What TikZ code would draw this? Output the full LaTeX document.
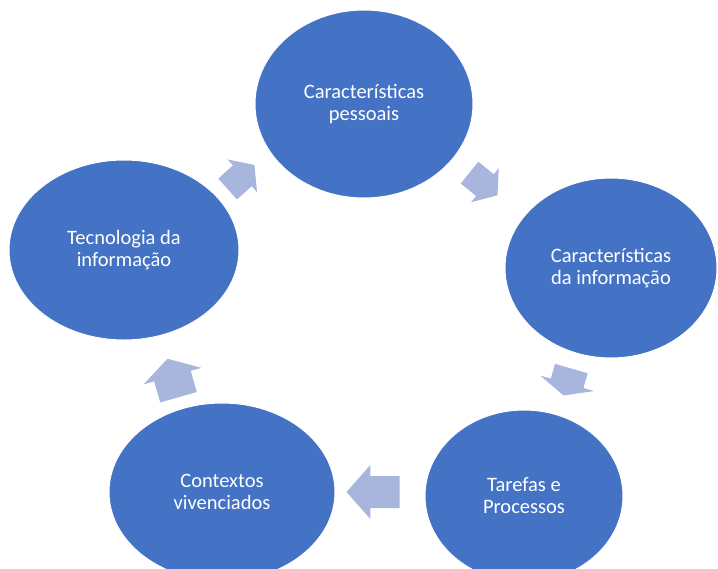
\documentclass[tikz,border=0pt]{standalone}
\usepackage{fontspec}
\setmainfont{Carlito}
\usetikzlibrary{calc,shapes.geometric}
\definecolor{nodeblue}{RGB}{68,114,196}
\definecolor{arrowblue}{RGB}{168,182,222}
% #1 from node, #2 to node, #3 angle, #4 length, #5 body half width, #6 head half width, #7 offset
\newcommand\cycarr[7]{%
  \begin{scope}[shift={($(#1)!0.5!(#2)+#7$)},rotate=#3]
    \fill[arrowblue] ({-#4/2},{-#5}) -- ({#4/2-0.45*#4},{-#5}) -- ({#4/2-0.45*#4},{-#6})
      -- ({#4/2},0) -- ({#4/2-0.45*#4},{#6}) -- ({#4/2-0.45*#4},{#5}) -- ({-#4/2},{#5}) -- cycle;
  \end{scope}}
\begin{document}
\begin{tikzpicture}[x=1pt,y=-1pt,
  bub/.style={ellipse, fill=nodeblue, draw=white, line width=1pt, text=white,
    align=center, inner sep=0pt, font=\fontsize{20.5}{22}\selectfont}]
\useasboundingbox (0,0) rectangle (718,568);
\fill[white] (0,0) rectangle (718,568);
\clip (0,0) rectangle (718,568);
\node[bub, minimum width=218pt, minimum height=188pt] (top) at (364,104) {Características\\pessoais};
\node[bub, minimum width=212pt, minimum height=180pt] (right) at (611,268) {Características\\da informação};
\node[bub, minimum width=198pt, minimum height=172pt] (br) at (524,496) {Tarefas e\\Processos};
\node[bub, minimum width=226pt, minimum height=178pt] (bl) at (222,492) {Contextos\\vivenciados};
\node[bub, minimum width=230pt, minimum height=180pt] (tec) at (124,250) {Tecnologia da\\informação};
\cycarr{tec}{top}{42}{36}{14}{22}{(-3,0)}
\cycarr{top}{right}{-39}{36}{14}{22}{(-4,-2)}
\cycarr{right}{br}{-106}{28}{17}{28}{(0,0)}
\cycarr{br}{bl}{180}{53}{16}{27}{(0,-2)}
\cycarr{bl}{tec}{106}{40}{19}{30}{(0,7)}
\end{tikzpicture}
\end{document}
